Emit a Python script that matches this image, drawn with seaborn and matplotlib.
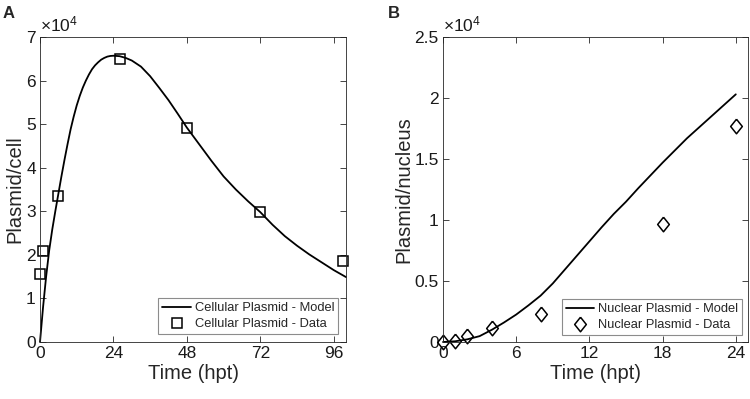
import numpy as np
import pandas as pd
import seaborn as sns
import matplotlib.pyplot as plt
from matplotlib.ticker import FuncFormatter

# Panel A: cellular plasmid
t_model_a = [0, 1, 2, 3, 4, 5, 6, 7, 8, 9, 10, 11, 12, 13, 14, 15, 16, 17, 18, 19, 20, 21, 22, 23,
             24, 26, 28, 30, 33, 36, 39, 42, 45, 48, 52, 56, 60, 64, 68, 72, 76, 80, 84, 88, 92,
             96, 100]
y_model_a = [0, 8000, 15000, 21000, 25800, 30000, 34000, 38000, 41800, 45400, 48800, 51700, 54300,
             56500, 58400, 60000, 61400, 62600, 63500, 64200, 64800, 65200, 65500, 65650,
             65700, 65600, 65200, 64600, 63200, 61000, 58300, 55500, 52400, 49200, 45400,
             41600, 38000, 35000, 32300, 29800, 26900, 24300, 22100, 20100, 18300, 16500, 14900]
t_data_a = [0, 1, 6, 26, 48, 72, 99]
y_data_a = [15600, 20900, 33600, 65000, 49100, 29800, 18600]

# Panel B: nuclear plasmid
t_model_b = [0, 1, 2, 3, 4, 5, 6, 7, 8, 9, 10, 11, 12, 13, 14, 15, 16, 17, 18, 19, 20, 21, 22, 23, 24]
y_model_b = [0, 60, 220, 480, 1000, 1600, 2250, 3000, 3800, 4800, 5950, 7100, 8250, 9400, 10500,
             11500, 12600, 13650, 14700, 15700, 16700, 17600, 18500, 19400, 20300]
t_data_b = [0, 1, 2, 4, 8, 18, 24]
y_data_b = [0, 100, 520, 1170, 2300, 9700, 17700]

sns.set_style("white")
plt.rcParams['font.family'] = ['Liberation Sans', 'DejaVu Sans']
plt.rcParams['mathtext.default'] = 'regular'

fig = plt.figure(figsize=(7.5, 3.99), dpi=100)
ax_a = fig.add_axes([40 / 750, 57 / 399, 306 / 750, 305 / 399])
ax_b = fig.add_axes([443 / 750, 57 / 399, 305 / 750, 305 / 399])

diamond = [(0, 1), (0.8, 0), (0, -1), (-0.8, 0), (0, 1)]
edge = '#262626'


def style_axes(ax, xticks, xlim, yticks, ylim, ylabel, fmt):
    ax.set_xlim(*xlim)
    ax.set_ylim(*ylim)
    ax.set_xticks(xticks)
    ax.set_yticks(yticks)
    ax.yaxis.set_major_formatter(FuncFormatter(fmt))
    ax.tick_params(direction='in', length=4, width=0.6, colors=edge, labelcolor='#1a1a1a',
                   labelsize=12.5, top=True, right=True, bottom=True, left=True, pad=3)
    for s in ax.spines.values():
        s.set_color(edge)
        s.set_linewidth(0.6)
    ax.set_xlabel("Time (hpt)", fontsize=14.5, labelpad=2)
    ax.set_ylabel(ylabel, fontsize=14.5, labelpad=1)
    ax.text(0.0, 1.01, r'$\times10^{4}$', transform=ax.transAxes, fontsize=12.5,
            ha='left', va='bottom', color='#1a1a1a')


sns.lineplot(x=t_model_a, y=y_model_a, ax=ax_a, color='black', linewidth=1.3,
             label='Cellular Plasmid - Model')
sns.lineplot(x=t_data_a, y=y_data_a, ax=ax_a, linestyle='', marker='s', markersize=7.2,
             markerfacecolor='none', markeredgecolor='black', markeredgewidth=1.1,
             label='Cellular Plasmid - Data')
style_axes(ax_a, [0, 24, 48, 72, 96], (0, 100), np.arange(0, 70001, 10000), (0, 70000),
           "Plasmid/cell", lambda v, p: f"{v / 1e4:g}")

sns.lineplot(x=t_model_b, y=y_model_b, ax=ax_b, color='black', linewidth=1.3,
             label='Nuclear Plasmid - Model')
sns.lineplot(x=t_data_b, y=y_data_b, ax=ax_b, linestyle='', marker=diamond, markersize=10.5,
             markerfacecolor='none', markeredgecolor='black', markeredgewidth=1.1,
             label='Nuclear Plasmid - Data')
style_axes(ax_b, [0, 6, 12, 18, 24], (0, 25), np.arange(0, 25001, 5000), (0, 25000),
           "Plasmid/nucleus", lambda v, p: f"{v / 1e4:g}")

for ax, anchor in [(ax_a, ((338 - 40) / 306, 8 / 305)), (ax_b, ((741.7 - 443) / 305, 7 / 305))]:
    for line in ax.lines:
        line.set_clip_on(False)
    leg = ax.legend(loc='lower right', bbox_to_anchor=anchor, borderaxespad=0, fontsize=9.3,
                    fancybox=False, framealpha=1, edgecolor='#8c8c8c', handlelength=2.2,
                    labelspacing=0.3, borderpad=0.3, handletextpad=0.3)
    leg.get_frame().set_linewidth(0.8)

fig.text(3 / 750, 1 - 13.5 / 399, 'A', fontsize=12, fontweight='bold', va='center', ha='left')
fig.text(388 / 750, 1 - 13.5 / 399, 'B', fontsize=12, fontweight='bold', va='center', ha='left')

fig.savefig('out.png', dpi=100)
